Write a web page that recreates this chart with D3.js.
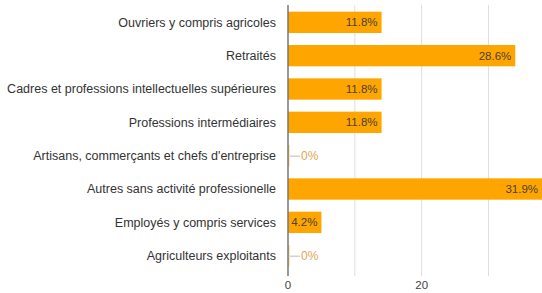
<!DOCTYPE html>
<html>
<head>
<meta charset="utf-8">
<script src="https://cdn.jsdelivr.net/npm/d3@7"></script>
<style>
  body { margin: 0; background: #fff; }
  text { font-family: "Liberation Sans", Arial, sans-serif; }
</style>
</head>
<body>
<div id="chart"></div>
<script>
// categories, counts (bar length) and percent labels
var categories = [
    "Ouvriers y compris agricoles",
    "Retraités",
    "Cadres et professions intellectuelles supérieures",
    "Professions intermédiaires",
    "Artisans, commerçants et chefs d'entreprise",
    "Autres sans activité professionelle",
    "Employés y compris services",
    "Agriculteurs exploitants"
];
var counts = [14, 34, 14, 14, 0, 38, 5, 0];
var percents = ["11.8%", "28.6%", "11.8%", "11.8%", "0%", "31.9%", "4.2%", "0%"];
var gridTicks = [0, 10, 20, 30];
var labelTicks = [0, 20];

var margin = {top: 5, right: 0, bottom: 17, left: 288},
    width = 542 - margin.left - margin.right,
    height = 293 - margin.top - margin.bottom;

var data = categories.map(function(c, i) {
    return {cat: c, count: counts[i], pct: percents[i]};
});

var x = d3.scaleLinear().domain([0, 38]).range([0, width]);
var y = d3.scaleBand().domain(categories).range([0, height - 3]).paddingInner(0.36).paddingOuter(0.2);

var svg = d3.select("#chart")
    .append("svg")
    .attr("width", 542)
    .attr("height", 293)
    .append("g")
    .attr("transform", "translate(" + margin.left + "," + margin.top + ")");

// gridlines
svg.selectAll("line.grid")
    .data(gridTicks.slice(1))
    .enter().append("line")
    .attr("class", "grid")
    .attr("x1", function(d) { return x(d); })
    .attr("x2", function(d) { return x(d); })
    .attr("y1", 0)
    .attr("y2", height)
    .attr("stroke", "#dedede");

// bars
svg.selectAll("rect.bar")
    .data(data)
    .enter().append("rect")
    .attr("class", "bar")
    .attr("x", 0)
    .attr("y", function(d) { return y(d.cat); })
    .attr("width", function(d) { return Math.max(x(d.count), 1.5); })
    .attr("height", y.bandwidth())
    .attr("fill", function(d) { return d.count > 0 ? "#ffa500" : "#ffd27a"; });

// value labels
svg.selectAll("text.val")
    .data(data)
    .enter().append("text")
    .attr("class", "val")
    .attr("x", function(d) { return d.count > 0 ? x(d.count) - 4 : 13; })
    .attr("y", function(d) { return y(d.cat) + y.bandwidth() / 2; })
    .attr("dy", "0.35em")
    .style("text-anchor", function(d) { return d.count > 0 ? "end" : "start"; })
    .style("font-size", function(d) { return d.count > 0 ? "11.5px" : "12px"; })
    .attr("fill", function(d) { return d.count > 0 ? "#4d4030" : "#e3a550"; })
    .text(function(d) { return d.pct; });

// leader stubs for zero values
svg.selectAll("line.stub")
    .data(data.filter(function(d) { return d.count === 0; }))
    .enter().append("line")
    .attr("class", "stub")
    .attr("x1", 2)
    .attr("x2", 12)
    .attr("y1", function(d) { return y(d.cat) + y.bandwidth() / 2 + 0.5; })
    .attr("y2", function(d) { return y(d.cat) + y.bandwidth() / 2 + 0.5; })
    .attr("stroke", "#bbb");

// axis line
svg.append("line")
    .attr("x1", 0).attr("x2", 0)
    .attr("y1", 0).attr("y2", height)
    .attr("stroke", "#777")
    .attr("stroke-width", 1.5);

// category labels
svg.selectAll("text.cat")
    .data(data)
    .enter().append("text")
    .attr("class", "cat")
    .attr("x", -12)
    .attr("y", function(d) { return y(d.cat) + y.bandwidth() / 2; })
    .attr("dy", "0.35em")
    .style("text-anchor", "end")
    .style("font-size", "12.5px")
    .attr("fill", "#333")
    .text(function(d) { return d.cat; });

// x tick labels
svg.selectAll("text.tick")
    .data(labelTicks)
    .enter().append("text")
    .attr("class", "tick")
    .attr("x", function(d) { return x(d); })
    .attr("y", height + 13)
    .style("text-anchor", "middle")
    .style("font-size", "11.5px")
    .attr("fill", "#444")
    .text(function(d) { return d; });
</script>
</body>
</html>
